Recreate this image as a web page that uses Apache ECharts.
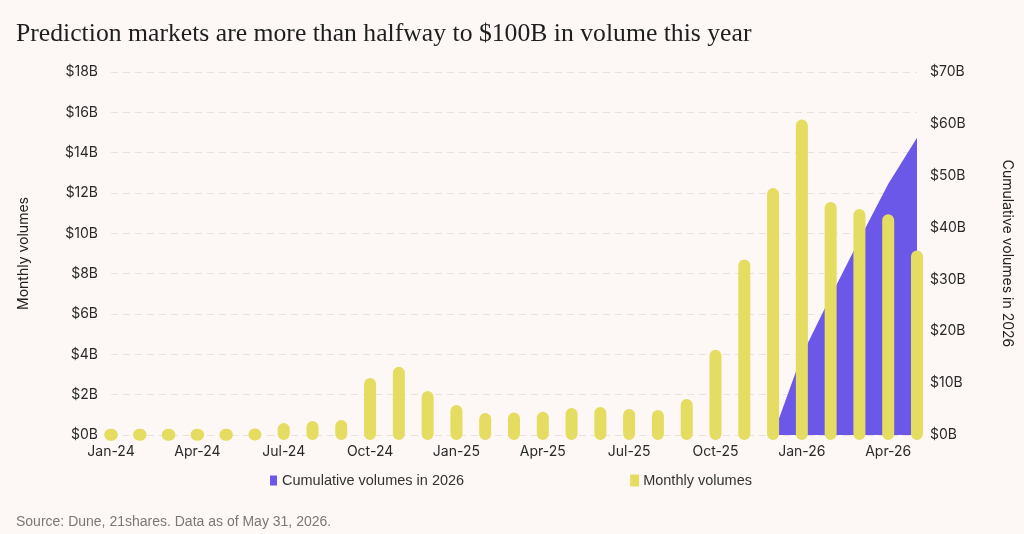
<!DOCTYPE html>
<html>
<head>
<meta charset="utf-8">
<script src="https://cdn.jsdelivr.net/npm/echarts@6/dist/echarts.min.js"></script>
<style>
  html, body { margin: 0; padding: 0; background: #fdf8f5; }
  #main { width: 1024px; height: 534px; }
</style>
</head>
<body>
<div id="main"></div>
<script>
// months on the x axis
var months = ['Jan-24','Feb-24','Mar-24','Apr-24','May-24','Jun-24','Jul-24','Aug-24','Sep-24','Oct-24','Nov-24','Dec-24',
              'Jan-25','Feb-25','Mar-25','Apr-25','May-25','Jun-25','Jul-25','Aug-25','Sep-25','Oct-25','Nov-25','Dec-25',
              'Jan-26','Feb-26','Mar-26','Apr-26','May-26'];
// monthly volumes, $B
var monthlyVolumes = [0.02, 0.02, 0.02, 0.02, 0.03, 0.05, 0.35, 0.45, 0.5, 2.58, 3.14, 1.93,
                      1.24, 0.84, 0.87, 0.9, 1.09, 1.14, 1.04, 0.99, 1.54, 3.98, 8.46, 12.0,
                      15.4, 11.3, 10.96, 10.7, 8.9];
// cumulative 2026 volumes, $B (starts at Dec-25 = 0)
var cumulative2026 = [null, null, null, null, null, null, null, null, null, null, null, null,
                      null, null, null, null, null, null, null, null, null, null, null, 0,
                      15.4, 26.7, 37.7, 48.4, 57.3];
var leftTicks = ['$0B','$2B','$4B','$6B','$8B','$10B','$12B','$14B','$16B','$18B'];

var yellow = '#e5dc62';
var purple = '#6b57e8';
var font = 'Inter';

var chart = echarts.init(document.getElementById('main'));
var option = {
    backgroundColor: '#fdf8f5',
    animation: false,
    title: [{
        text: 'Prediction markets are more than halfway to $100B in volume this year',
        left: 11, top: 16,
        textStyle: { fontFamily: 'Liberation Serif', fontSize: 25.7, fontWeight: 'normal', color: '#1e1e1e' }
    }, {
        text: 'Source: Dune, 21shares. Data as of May 31, 2026.',
        left: 11, top: 510,
        textStyle: { fontFamily: 'Liberation Sans', fontSize: 14, fontWeight: 'normal', color: '#7a7775' }
    }],
    legend: {
        left: 265, top: 468,
        itemWidth: 7, itemHeight: 10,
        itemGap: 166,
        icon: 'rect',
        textStyle: { fontFamily: 'Liberation Sans', fontSize: 14.5, color: '#333' },
        data: ['Cumulative volumes in 2026', 'Monthly volumes']
    },
    grid: { left: 111, right: 107, top: 72, bottom: 99 },
    xAxis: {
        type: 'category',
        data: months,
        boundaryGap: false,
        axisLine: { show: false },
        axisTick: { show: false },
        axisLabel: { interval: 2, margin: 10, fontFamily: font, fontSize: 14, color: '#2a2a2a' }
    },
    yAxis: [{
        type: 'value',
        min: 0, max: 18, interval: 2,
        name: 'Monthly volumes',
        nameLocation: 'middle',
        nameGap: 80,
        nameRotate: 90,
        nameTextStyle: { fontFamily: font, fontSize: 14, color: '#222' },
        axisLabel: {
            margin: 13, fontFamily: font, fontSize: 14, color: '#2a2a2a',
            formatter: function (v) { return leftTicks[v / 2]; }
        },
        splitLine: { lineStyle: { color: '#e9e3df', type: [7, 5], width: 1 } }
    }, {
        type: 'value',
        min: 0, max: 70, interval: 10,
        position: 'right',
        name: 'Cumulative volumes in 2026',
        nameLocation: 'middle',
        nameGap: 83,
        nameRotate: -90,
        nameTextStyle: { fontFamily: font, fontSize: 14, color: '#222' },
        axisLabel: { margin: 13, fontFamily: font, fontSize: 14, color: '#2a2a2a', formatter: '${value}B' },
        splitLine: { show: false }
    }],
    series: [{
        name: 'Cumulative volumes in 2026',
        type: 'line',
        yAxisIndex: 1,
        data: cumulative2026,
        showSymbol: false,
        lineStyle: { width: 0, color: purple },
        itemStyle: { color: purple },
        areaStyle: { color: purple, opacity: 1 },
        z: 1
    }, {
        name: 'Monthly volumes',
        type: 'bar',
        yAxisIndex: 0,
        data: monthlyVolumes,
        barWidth: 2,
        itemStyle: {
            color: yellow,
            borderColor: yellow,
            borderWidth: 12,
            borderJoin: 'round'
        },
        z: 3
    }]
};
chart.setOption(option);
</script>
</body>
</html>
